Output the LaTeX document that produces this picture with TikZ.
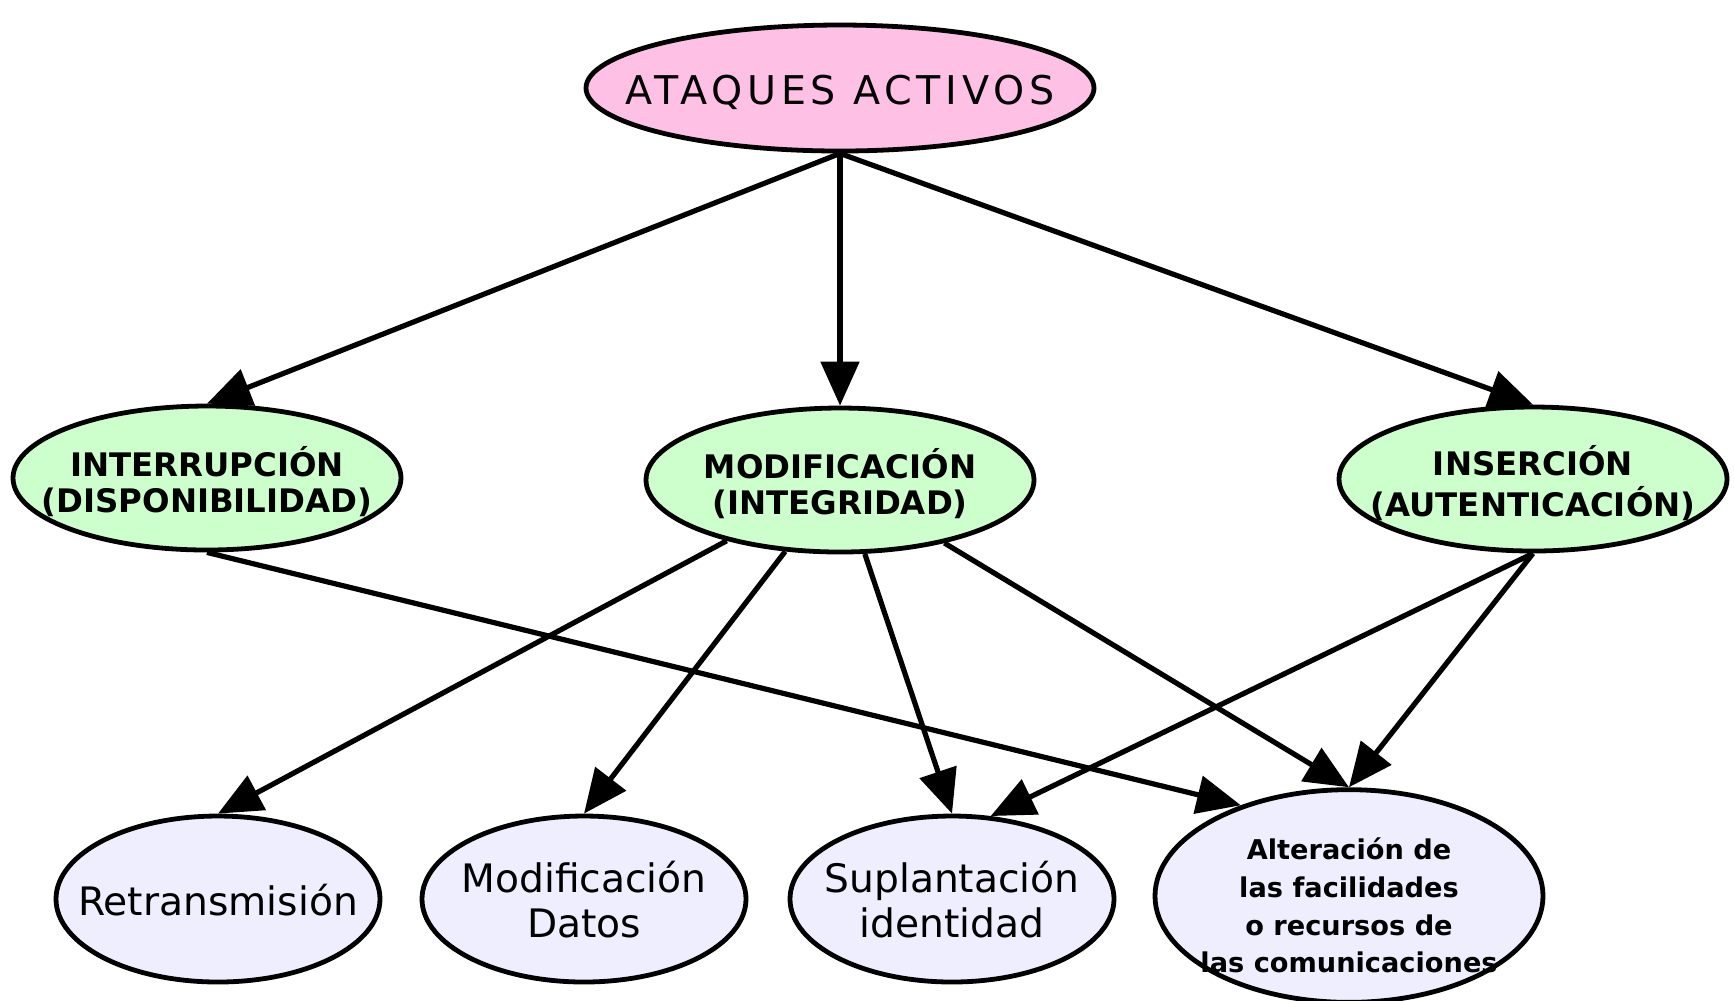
\documentclass[tikz,border=0pt]{standalone}
\usepackage{fontspec}
\setmainfont{DejaVu Sans}
\newfontfamily\espaciada[LetterSpace=12]{DejaVu Sans}
\usetikzlibrary{shapes.geometric, arrows.meta}

\definecolor{rosa}{RGB}{255,192,230}
\definecolor{verde}{RGB}{204,255,204}
\definecolor{lila}{RGB}{238,238,255}

% texto centrado que no ensancha la elipse (algo bajado)
\newcommand{\enlbl}[2][1.8pt]{\raisebox{-#1}[\height][\depth]{\makebox[0pt]{\begin{tabular}{@{}c@{}}#2\end{tabular}}}}

\begin{document}
\begin{tikzpicture}[x=0.25pt, y=-0.25pt,
            raiz/.style   ={ellipse, draw=black, line width=1.2pt, fill=rosa, inner sep=0pt,
                            minimum width=127pt, minimum height=31.5pt, font=\espaciada\fontsize{9.9}{12}\selectfont},
            tipo/.style   ={ellipse, draw=black, line width=1.2pt, fill=verde, inner sep=0pt,
                            minimum width=97pt, minimum height=36pt, font=\fontsize{8.1}{9.1}\selectfont\bfseries},
            ataque/.style ={ellipse, draw=black, line width=1.2pt, fill=lila, inner sep=0pt,
                            minimum width=81pt, minimum height=41.5pt, font=\fontsize{9.8}{11.3}\selectfont},
            recurso/.style={ataque, minimum width=97pt, minimum height=50pt, font=\fontsize{6.8}{9.4}\selectfont\bfseries},
            flecha/.style ={-{Triangle[length=11pt,width=9.5pt]}, line width=1.3pt, black}
        ]
            \useasboundingbox (0,0) rectangle (1734,1000);

            % --- Raiz ---
            \node[raiz]    (activos) at (840,88)   {\enlbl{ATAQUES ACTIVOS}};

            % --- Tipos de ataque ---
            \node[tipo]    (interr)  at (207,478)  {\enlbl{INTERRUPCIÓN\\(DISPONIBILIDAD)}};
            \node[tipo]    (modif)   at (840,480)  {\enlbl{MODIFICACIÓN\\(INTEGRIDAD)}};
            \node[tipo]    (inserc)  at (1533,479) {\enlbl{INSERCIÓN\\(AUTENTICACIÓN)}};

            % --- Ataques concretos ---
            \node[ataque]  (retrans) at (218,899)  {\enlbl{Retransmisión}};
            \node[ataque]  (datos)   at (584,899)  {\enlbl{Modificación\\Datos}};
            \node[ataque]  (suplant) at (952,899)  {\enlbl{Suplantación\\identidad}};
            \node[recurso] (altera)  at (1349,896) {\enlbl[3.2pt]{Alteración de\\las facilidades\\o recursos de\\las comunicaciones}};

            % --- Enlaces ---
            \draw[flecha] (activos.south) -- (interr.north);
            \draw[flecha] (activos.south) -- (modif.north);
            \draw[flecha] (activos.south) -- (inserc.north);

            \draw[flecha] (interr.south)  -- (altera.140);

            \draw[flecha] (modif)         -- (retrans.north);
            \draw[flecha] (modif)         -- (datos.north);
            \draw[flecha] (modif)         -- (suplant.north);
            \draw[flecha] (modif)         -- (altera.north);

            \draw[flecha] (inserc.south)  -- (suplant.65);
            \draw[flecha] (inserc.south)  -- (altera.north);
        \end{tikzpicture}
\end{document}
